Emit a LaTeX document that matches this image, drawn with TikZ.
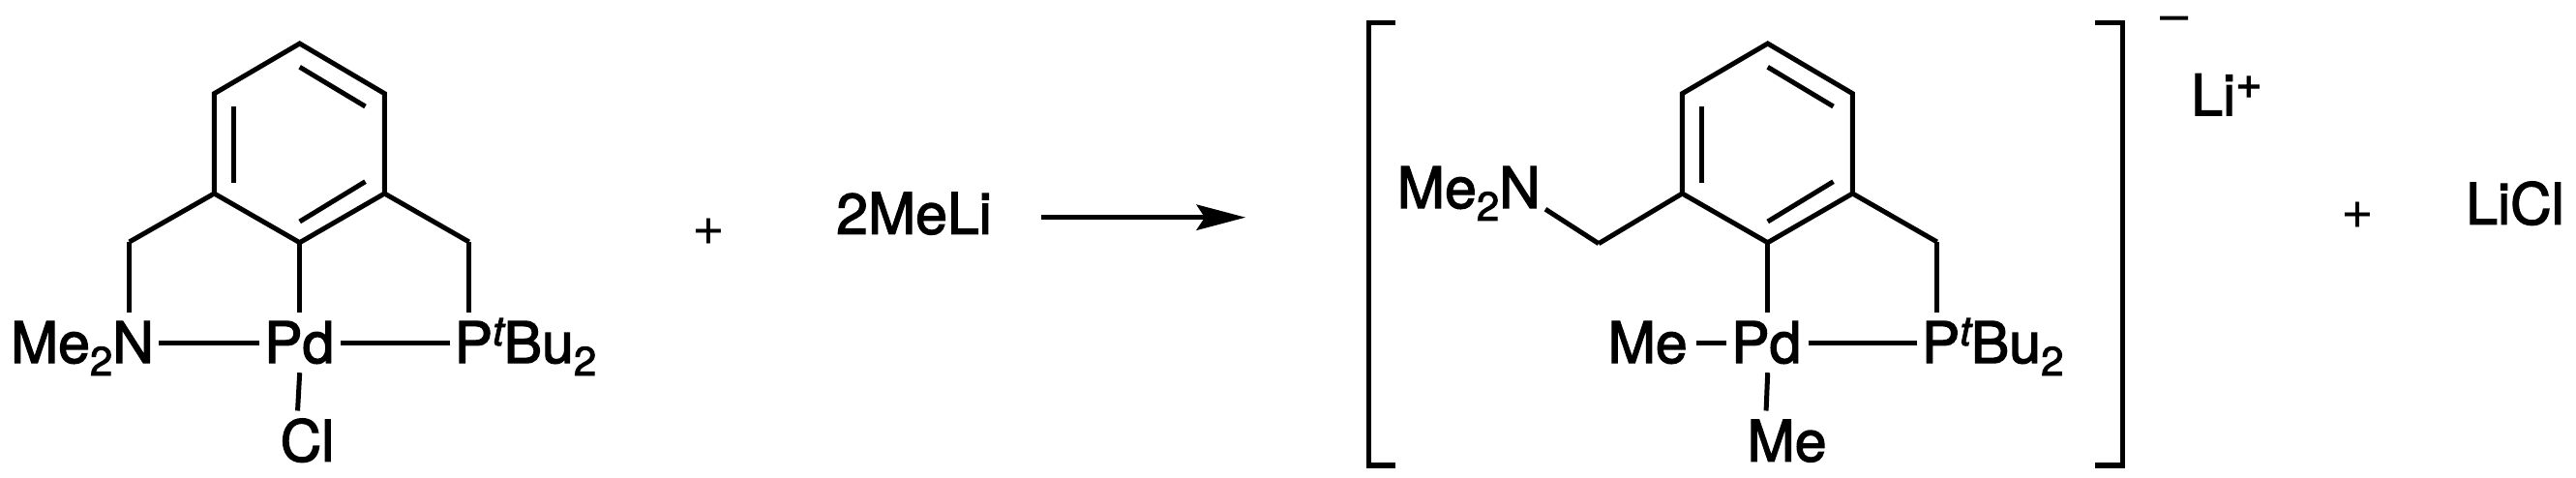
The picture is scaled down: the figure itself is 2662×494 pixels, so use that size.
\documentclass[tikz,border=0pt]{standalone}
\usepackage{fontspec}
\setmainfont[RawFeature={embolden=2.2}]{TeX Gyre Heros}
\newfontfamily\chargefont[RawFeature={embolden=10}]{TeX Gyre Heros}
\newfontfamily\plusfont{TeX Gyre Heros}
\usetikzlibrary{arrows.meta,calc}
\newcommand\lsub[1]{\raisebox{-13pt}{\fontsize{42}{42}\selectfont #1}}
\newcommand\lsup[1]{\raisebox{18pt}{\fontsize{42}{42}\selectfont #1}}
\tikzset{
  bond/.style={line width=5pt,line join=miter,line cap=butt},
  atom/.style={font=\fontsize{59}{59}\selectfont,inner xsep=5pt,inner ysep=10pt,text height=42pt,text depth=0pt,anchor=base west},
  plain/.style={font=\fontsize{59}{59}\selectfont,inner sep=0pt,anchor=base west},
  pluslabel/.style={font=\plusfont\fontsize{58}{58}\selectfont,inner sep=0pt,anchor=base west},
  bracket/.style={line width=5.5pt,line join=miter,line cap=butt},
  rxnarrow/.style={line width=4.7pt,-{Stealth[length=51pt,width=27pt,inset=9pt,line width=0pt]}}
}
\newcommand\arylring[1]{%
  \coordinate (#1a) at (309.7,45);
  \coordinate (#1b) at (397.4,96.7);
  \coordinate (#1c) at (397.4,200);
  \coordinate (#1d) at (309.7,250.7);
  \coordinate (#1e) at (221.4,200);
  \coordinate (#1f) at (221.4,96.7);
  \coordinate (#1i1) at (241.3,110);
  \coordinate (#1i2) at (241.3,189);
  \coordinate (#1i3) at (309.7,69.3);
  \coordinate (#1i4) at (377.5,110);
  \coordinate (#1i5) at (377.5,187.7);
  \coordinate (#1i6) at (309.7,229);
  \coordinate (#1r) at (484.7,250);
  \draw[bond] (#1a) -- (#1b) -- (#1c) -- (#1d) -- (#1e) -- (#1f) -- cycle;
  \draw[bond] (#1i1) -- (#1i2);
  \draw[bond] (#1i3) -- (#1i4);
  \draw[bond] (#1i5) -- (#1i6);
  \draw[bond] (#1c) -- (#1r);
}
\begin{document}
\begin{tikzpicture}[x=1pt,y=-1pt]
\useasboundingbox (0,0) rectangle (2662,494);
% left complex
\arylring{L}
\coordinate (Ll) at (133.7,250);
\draw[bond] (Le) -- (Ll);
\node[atom] (n1) at (5.8,375) {Me\lsub{2}N};
\node[atom] (pd1) at (268,375) {Pd};
\node[atom] (p1) at (464.5,375) {P\lsup{\itshape t}Bu\lsub{2}};
\node[atom] (cl1) at (284.5,476.7) {Cl};
\draw[bond] (Ll) -- (Ll |- n1.north);
\draw[bond] (Lr) -- (Lr |- p1.north);
\draw[bond] (Ld) -- (Ld |- pd1.north);
\draw[bond] (n1.east) -- (pd1.west);
\draw[bond] ($(pd1.east)+(1,0)$) -- (p1.west);
\draw[bond] (Ld |- pd1.south) -- ($(cl1.north)+(-10,0)$);
% middle
\node[pluslabel] (plus1) at (715,253.5) {+};
\node[plain] (meli) at (864,241.7) {2MeLi};
\coordinate (as) at (1076,224.7);
\coordinate (ae) at (1287,224.7);
\draw[rxnarrow] (as) -- (ae);
% bracketed product
\coordinate (b1) at (1442,23.3);
\coordinate (b2) at (1414.7,23.3);
\coordinate (b3) at (1414.7,481);
\coordinate (b4) at (1442,481);
\draw[bracket] (b1) -- (b2) -- (b3) -- (b4);
\coordinate (c1) at (2165,23.3);
\coordinate (c2) at (2193.5,23.3);
\coordinate (c3) at (2193.5,481);
\coordinate (c4) at (2165,481);
\draw[bracket] (c1) -- (c2) -- (c3) -- (c4);
\begin{scope}[shift={(1517,0)}]
\arylring{R}
\coordinate (Rl) at (135,251.7);
\draw[bond] (Re) -- (Rl);
\end{scope}
\node[atom] (n2) at (1438.7,215) {Me\lsub{2}N};
\node[atom] (me2) at (1656.5,375) {Me};
\node[atom] (pd2) at (1784,375) {Pd};
\node[atom] (p2) at (1980.7,375) {P\lsup{\itshape t}Bu\lsub{2}};
\node[atom] (me3) at (1800.4,476.7) {Me};
\draw[bond] (Rl) -- ($(n2.south east)+(0,-9)$);
\draw[bond] (Rr) -- (Rr |- p2.north);
\draw[bond] (Rd) -- (Rd |- pd2.north);
\draw[bond] ($(me2.east)+(4,0)$) -- (pd2.west);
\draw[bond] ($(pd2.east)+(2,0)$) -- (p2.west);
\draw[bond] (Rd |- pd2.south) -- ($(me3.north)+(-21.5,0)$);
\node[anchor=base west,inner sep=0pt,font=\chargefont\fontsize{24}{24}\selectfont] (minus) at (2231,24.7) {\scalebox{2.2}[1]{−}};
\node[plain] (li) at (2264,119.3) {Li\lsup{\fontsize{47}{47}\selectfont +}};
\node[pluslabel] (plus2) at (2419,237) {+};
\node[plain] (licl) at (2548,231.7) {LiCl};
\end{tikzpicture}
\end{document}
